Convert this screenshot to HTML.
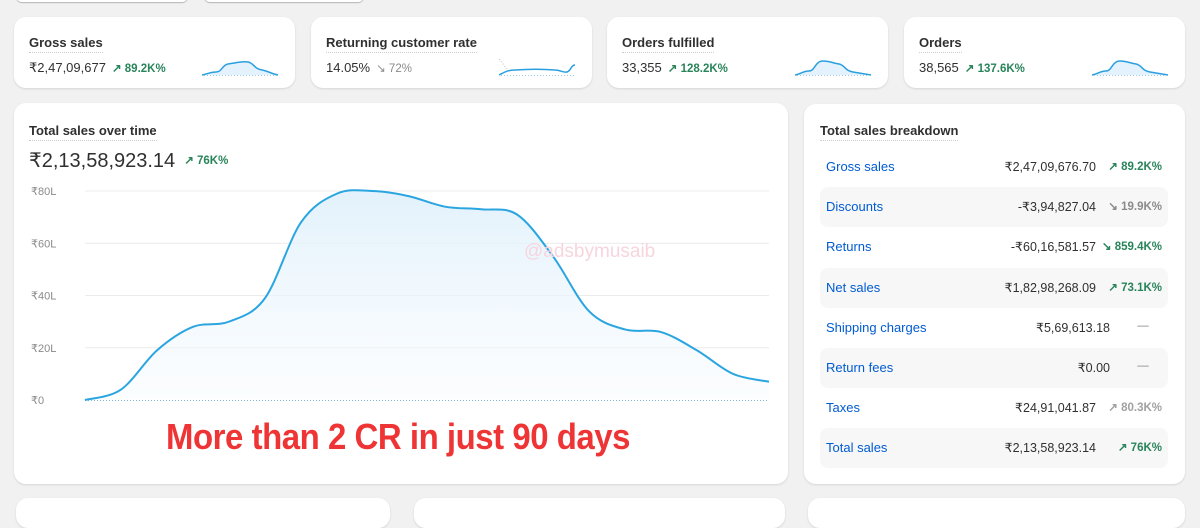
<!DOCTYPE html>
<html><head><meta charset="utf-8">
<style>
*{box-sizing:border-box;margin:0;padding:0}
body{width:1200px;height:503px;overflow:hidden;background:#f1f1f1;font-family:"Liberation Sans",sans-serif;color:#303030;position:relative}
.card{position:absolute;background:#fff;border-radius:12px;box-shadow:0 1px 2px rgba(0,0,0,.12)}
.ttl{position:absolute;font-size:13px;font-weight:bold;color:#303030;border-bottom:1.5px dotted #ccc;padding-bottom:2px}
.val{position:absolute;font-size:13px;color:#303030}
.up{color:#29845a;font-size:11.5px;font-weight:bold;margin-left:6px}
.gr{color:#8a8a8a;font-size:11.5px;font-weight:bold;margin-left:6px}
.row{position:absolute;left:820px;width:348px;height:40px;border-radius:8px}
.row.s{background:#f7f7f7}
.rl{position:absolute;left:6px;top:12px;font-size:13px;color:#005bd3}
.rv{position:absolute;top:12px;font-size:12.5px;color:#303030;text-align:right}
.rc{position:absolute;top:12px;font-size:11.5px;font-weight:bold;text-align:right}
</style></head><body>
<div class="card" style="left:16px;top:-12px;width:172px;height:14px;border-radius:6px;box-shadow:0 1px 1px rgba(0,0,0,.25)"></div>
<div class="card" style="left:204px;top:-12px;width:160px;height:14px;border-radius:6px;box-shadow:0 1px 1px rgba(0,0,0,.25)"></div>

<div class="card" style="left:14px;top:17px;width:281px;height:71px">
 <div class="ttl" style="left:15px;top:18px">Gross sales</div>
 <div class="val" style="left:15px;top:43px">₹2,47,09,677<span class="up">↗ 89.2K%</span></div>
 <svg style="position:absolute;left:188px;top:40px" width="80" height="20"><path d="M0 18 C6 17 8 15 14 15 C20 15 20 8 26 7 C34 6 40 4 46 5 C52 6 52 12 60 13 C66 14 70 17 76 18 L76 18 L0 18 Z" fill="#e3f2fc"/><path d="M0 18 C6 17 8 15 14 15 C20 15 20 8 26 7 C34 6 40 4 46 5 C52 6 52 12 60 13 C66 14 70 17 76 18" fill="none" stroke="#2a9fe0" stroke-width="1.5"/><line x1="2" y1="18.5" x2="76" y2="18.5" stroke="#9bc9e6" stroke-dasharray="1 2"/></svg>
</div>
<div class="card" style="left:311px;top:17px;width:281px;height:71px">
 <div class="ttl" style="left:15px;top:18px">Returning customer rate</div>
 <div class="val" style="left:15px;top:43px">14.05%<span class="gr" style="font-weight:normal">↘ 72%</span></div>
 <svg style="position:absolute;left:188px;top:40px" width="80" height="20"><path d="M0 2 L8 12" stroke="#bbb" stroke-dasharray="1 2"/><path d="M0 18 C4 16 8 13 16 13 C30 12 44 12 56 13 C62 13 64 16 68 15 C72 14 72 8 76 8" fill="none" stroke="#2a9fe0" stroke-width="1.5"/><line x1="2" y1="18.5" x2="76" y2="18.5" stroke="#9bc9e6" stroke-dasharray="1 2"/></svg>
</div>
<div class="card" style="left:607px;top:17px;width:281px;height:71px">
 <div class="ttl" style="left:15px;top:18px">Orders fulfilled</div>
 <div class="val" style="left:15px;top:43px">33,355<span class="up">↗ 128.2K%</span></div>
 <svg style="position:absolute;left:188px;top:40px" width="80" height="20"><path d="M0 18 C6 17 8 14 14 14 C20 14 20 4 28 4 C34 4 38 6 44 7 C50 8 50 14 58 15 C64 16 70 17 76 18 L0 18 Z" fill="#e3f2fc"/><path d="M0 18 C6 17 8 14 14 14 C20 14 20 4 28 4 C34 4 38 6 44 7 C50 8 50 14 58 15 C64 16 70 17 76 18" fill="none" stroke="#2a9fe0" stroke-width="1.5"/><line x1="2" y1="18.5" x2="76" y2="18.5" stroke="#9bc9e6" stroke-dasharray="1 2"/></svg>
</div>
<div class="card" style="left:904px;top:17px;width:281px;height:71px">
 <div class="ttl" style="left:15px;top:18px">Orders</div>
 <div class="val" style="left:15px;top:43px">38,565<span class="up">↗ 137.6K%</span></div>
 <svg style="position:absolute;left:188px;top:40px" width="80" height="20"><path d="M0 18 C6 17 8 14 14 14 C20 14 20 4 28 4 C34 4 38 6 44 7 C50 8 50 14 58 15 C64 16 70 17 76 18 L0 18 Z" fill="#e3f2fc"/><path d="M0 18 C6 17 8 14 14 14 C20 14 20 4 28 4 C34 4 38 6 44 7 C50 8 50 14 58 15 C64 16 70 17 76 18" fill="none" stroke="#2a9fe0" stroke-width="1.5"/><line x1="2" y1="18.5" x2="76" y2="18.5" stroke="#9bc9e6" stroke-dasharray="1 2"/></svg>
</div>

<div class="card" style="left:14px;top:103px;width:774px;height:381px">
 <div class="ttl" style="left:15px;top:20px">Total sales over time</div>
 <div style="position:absolute;left:15px;top:45px;font-size:20px;color:#303030">₹2,13,58,923.14<span class="up" style="font-size:11.5px;margin-left:9px;vertical-align:3px">↗ 76K%</span></div>
</div>
<svg id="chart" style="position:absolute;left:0;top:0" width="800" height="503"></svg>
<div style="position:absolute;left:524px;top:241px;font-size:19px;color:#f7d5df">@adsbymusaib</div>
<div style="position:absolute;left:166px;top:416px;font-size:36px;font-weight:bold;color:#ee3434;letter-spacing:-0.5px;transform:scaleX(0.915);transform-origin:left top;white-space:nowrap">More than 2 CR in just 90 days</div>

<div class="card" style="left:804px;top:104px;width:381px;height:380px">
 <div class="ttl" style="left:16px;top:19px">Total sales breakdown</div>
</div>
<div id="rows"></div>

<div class="card" style="left:16px;top:498px;width:374px;height:30px"></div>
<div class="card" style="left:414px;top:498px;width:371px;height:30px"></div>
<div class="card" style="left:808px;top:498px;width:377px;height:30px"></div>

<script>
const days=[0,1,2,3,4,5,6,7,8,9,10,11,12,13,14,15,16,17,18,19];
const salesL=[0,4,19,28,30,39,68,79,80,78,74,73,71,55,34,27,26,19,10,7];
const yTicks=[0,20,40,60,80];
const yTickLabels=["₹0","₹20L","₹40L","₹60L","₹80L"];
const NS="http://www.w3.org/2000/svg";
const svg=document.getElementById('chart');
const x0=85,x1=769,yb=400,yt=191;
const xs=d=>x0+(d-days[0])/(days[days.length-1]-days[0])*(x1-x0);
const ys=v=>yb-v/80*(yb-yt);
let defs=document.createElementNS(NS,'defs');
defs.innerHTML='<linearGradient id="g" x1="0" y1="0" x2="0" y2="1"><stop offset="0" stop-color="#dff0fb" stop-opacity=".9"/><stop offset="1" stop-color="#f5fafe" stop-opacity=".4"/></linearGradient>';
svg.appendChild(defs);
yTicks.forEach((t,i)=>{
 const y=ys(t);
 if(t>0){const l=document.createElementNS(NS,'line');
 
 
 l.setAttribute('x1',x0);l.setAttribute('x2',x1);l.setAttribute('y1',y);l.setAttribute('y2',y);
 l.setAttribute('stroke','#ececec');svg.appendChild(l);}
 const tx=document.createElementNS(NS,'text');
 
 
 tx.setAttribute('x',31);tx.setAttribute('y',y+4);tx.setAttribute('font-size','11');tx.setAttribute('fill','#8a8a8a');
 tx.setAttribute('font-family','Liberation Sans, sans-serif');tx.textContent=yTickLabels[i];svg.appendChild(tx);
});
const pts=days.map((d,i)=>[xs(d),ys(salesL[i])]);
let p='M'+pts[0][0]+' '+pts[0][1];
for(let i=0;i<pts.length-1;i++){
 const a=pts[Math.max(0,i-1)],b=pts[i],c=pts[i+1],d=pts[Math.min(pts.length-1,i+2)];
 const c1=[b[0]+(c[0]-a[0])/6,b[1]+(c[1]-a[1])/6],c2=[c[0]-(d[0]-b[0])/6,c[1]-(d[1]-b[1])/6];
 p+=` C${c1[0]} ${c1[1]} ${c2[0]} ${c2[1]} ${c[0]} ${c[1]}`;
}
const area=document.createElementNS(NS,'path');


area.setAttribute('d',p+` L${x1} ${yb} L${x0} ${yb} Z`);area.setAttribute('fill','url(#g)');svg.appendChild(area);
const base=document.createElementNS(NS,'line');


base.setAttribute('x1',x0);base.setAttribute('x2',x1);base.setAttribute('y1',yb+0.5);base.setAttribute('y2',yb+0.5);
base.setAttribute('stroke','#7fb8dc');base.setAttribute('stroke-dasharray','1 2');svg.appendChild(base);
const line=document.createElementNS(NS,'path');


line.setAttribute('d',p);line.setAttribute('fill','none');line.setAttribute('stroke','#2aa5e0');line.setAttribute('stroke-width','2');svg.appendChild(line);

const labels=["Gross sales","Discounts","Returns","Net sales","Shipping charges","Return fees","Taxes","Total sales"];
const amounts=["₹2,47,09,676.70","-₹3,94,827.04","-₹60,16,581.57","₹1,82,98,268.09","₹5,69,613.18","₹0.00","₹24,91,041.87","₹2,13,58,923.14"];
const changes=["↗ 89.2K%","↘ 19.9K%","↘ 859.4K%","↗ 73.1K%","—","—","↗ 80.3K%","↗ 76K%"];
const changeColor=["#29845a","#8a8a8a","#29845a","#29845a","#8a8a8a","#8a8a8a","#a0a0a0","#29845a"];
const rows=document.getElementById('rows');
labels.forEach((lb,i)=>{
 const r=document.createElement('div');
 r.className='row'+(i%2?' s':'');
 r.style.top=(147+i*40.2)+'px';
 
 
 const dash=changes[i]==='—';
 r.innerHTML=`<span class="rl">${lb}</span><span class="rv" style="right:${dash?58:72}px">${amounts[i]}</span><span class="rc" style="right:${dash?14:6}px;width:${dash?22:62}px;color:${changeColor[i]};${dash?'font-weight:normal;text-align:center':''}">${changes[i]}</span>`;
 rows.appendChild(r);
});
</script>
</body></html>
